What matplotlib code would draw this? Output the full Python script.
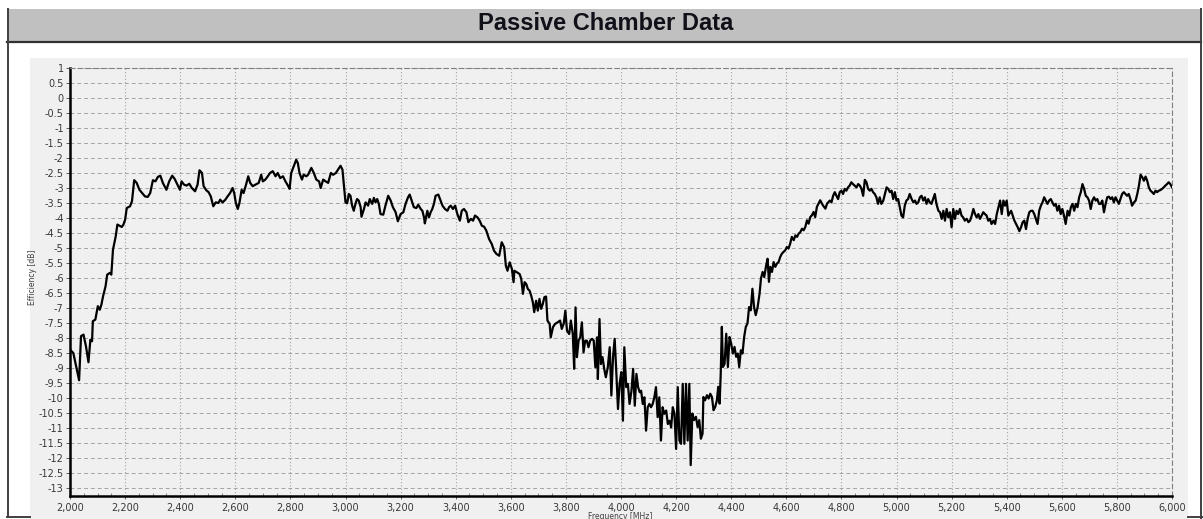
import matplotlib
matplotlib.use("Agg")
import matplotlib.pyplot as plt
from matplotlib.patches import Rectangle
from matplotlib.lines import Line2D
from matplotlib.ticker import MultipleLocator


freq_a = [2000, 2012, 2025, 2033, 2040, 2049, 2058, 2067, 2074, 2080,
          2083, 2092, 2101, 2108, 2114, 2120, 2129, 2135, 2145, 2150,
          2156, 2166, 2172, 2180, 2188, 2194, 2200, 2206, 2218, 2225,
          2233, 2242, 2252, 2264, 2272, 2282, 2291, 2301, 2310, 2319,
          2328, 2337, 2350, 2360, 2371, 2380, 2390, 2399, 2405, 2414,
          2423, 2433, 2442, 2454, 2463, 2470, 2479, 2485, 2495]
eff_a = [-8.39, -8.5, -9.06, -9.41, -7.94, -7.89, -8.28, -8.81, -8.06, -8.11,
         -7.44, -7.39, -6.94, -7.06, -6.89, -6.61, -6.28, -5.89, -5.83, -5.89,
         -5.06, -4.61, -4.22, -4.26, -4.3, -4.22, -4.06, -3.67, -3.61, -3.44,
         -2.74, -2.83, -3.06, -3.19, -3.28, -3.3, -3.17, -2.74, -2.78, -2.63,
         -2.59, -2.83, -3.06, -2.78, -2.59, -2.7, -2.89, -3.06, -2.78, -2.89,
         -2.92, -2.86, -3.0, -3.11, -2.89, -2.41, -2.5, -2.94, -3.08]

freq_b = [2503, 2511, 2520, 2529, 2539, 2545, 2554, 2564, 2572, 2581,
          2590, 2596, 2602, 2609, 2615, 2623, 2630, 2639, 2647, 2654,
          2663, 2673, 2685, 2694, 2700, 2709, 2718, 2726, 2736, 2746,
          2754, 2763, 2773, 2782, 2791, 2797, 2803, 2812, 2821, 2827,
          2833, 2842, 2848, 2858, 2864, 2876, 2885, 2894, 2904, 2910,
          2919, 2928, 2937, 2947, 2955, 2965, 2973, 2982, 2989]
eff_b = [-3.14, -3.28, -3.61, -3.48, -3.5, -3.39, -3.48, -3.39, -3.28, -3.17,
         -3.0, -3.17, -3.5, -3.7, -3.5, -3.06, -3.17, -2.89, -2.61, -2.83,
         -2.94, -2.89, -2.83, -2.56, -2.78, -2.72, -2.61, -2.5, -2.44, -2.61,
         -2.5, -2.67, -2.61, -2.78, -2.92, -3.03, -2.5, -2.28, -2.06, -2.17,
         -2.5, -2.72, -2.56, -2.61, -2.56, -2.33, -2.5, -2.72, -2.78, -3.0,
         -2.72, -2.78, -2.83, -2.5, -2.56, -2.5, -2.39, -2.26, -2.39]

freq_c = [2994, 3000, 3006, 3012, 3018, 3024, 3030, 3036, 3042, 3048,
          3055, 3058, 3067, 3073, 3082, 3088, 3097, 3103, 3109, 3115,
          3121, 3127, 3137, 3145, 3155, 3164, 3172, 3182, 3190, 3200,
          3210, 3218, 3227, 3233, 3240, 3248, 3257, 3264, 3273, 3279,
          3285, 3288, 3297, 3303, 3309, 3315, 3321, 3327, 3337, 3343,
          3352, 3361, 3370, 3376, 3382, 3390, 3398, 3406, 3415, 3422,
          3430, 3439, 3446, 3455, 3463, 3470, 3479, 3487, 3495, 3503,
          3511, 3521, 3531, 3539, 3548, 3558, 3567, 3576, 3582, 3588,
          3596]
eff_c = [-2.87, -3.48, -3.51, -3.2, -3.26, -3.59, -3.76, -3.53, -3.37, -3.42,
         -3.64, -3.96, -3.7, -3.48, -3.59, -3.37, -3.53, -3.33, -3.48, -3.37,
         -3.53, -3.87, -3.89, -3.59, -3.26, -3.42, -3.64, -3.81, -4.11, -3.87,
         -3.81, -3.53, -3.31, -3.22, -3.42, -3.64, -3.67, -3.56, -3.7, -3.76,
         -3.98, -4.18, -3.76, -3.98, -3.81, -3.7, -3.53, -3.26, -3.22, -3.37,
         -3.59, -3.7, -3.76, -3.64, -3.59, -3.7, -3.59, -3.87, -4.09, -3.76,
         -3.7, -3.81, -4.14, -4.03, -4.09, -3.92, -3.98, -4.09, -4.26, -4.29,
         -4.42, -4.7, -4.87, -5.09, -5.2, -5.26, -4.81, -4.98, -5.59, -5.76,
         -5.48]

freq_d = [3604, 3610, 3613, 3622, 3632, 3638, 3644, 3650, 3656, 3662,
          3668, 3674, 3680, 3685, 3692, 3698, 3704, 3710, 3716, 3722,
          3728, 3733, 3741, 3745, 3753, 3761, 3770, 3779, 3785, 3792,
          3798, 3804, 3812, 3818, 3825, 3830, 3835, 3840, 3846, 3852,
          3858, 3864, 3870, 3876, 3882, 3888, 3895, 3901, 3907, 3913,
          3916, 3922, 3927, 3933, 3939, 3945, 3952, 3959, 3965, 3971,
          3977, 3983, 3989, 3995, 4001, 4007, 4012, 4019, 4025, 4031,
          4038, 4044, 4050, 4056, 4062, 4068, 4073, 4079, 4085, 4091,
          4097, 4103, 4109, 4115, 4121, 4127, 4133, 4139, 4145, 4151,
          4157, 4164, 4170, 4176, 4182, 4188, 4194, 4200, 4206, 4212,
          4218, 4224, 4230, 4236, 4242, 4248]
eff_d = [-5.7, -6.14, -5.76, -5.81, -5.87, -6.03, -6.53, -6.14, -6.2, -6.37,
         -6.42, -6.59, -6.81, -7.14, -6.76, -7.09, -6.7, -7.03, -6.87, -6.64,
         -6.62, -7.42, -7.53, -7.98, -7.64, -7.53, -7.48, -7.42, -7.7, -7.53,
         -7.09, -7.76, -7.87, -7.42, -7.87, -9.03, -6.98, -8.64, -8.09, -7.98,
         -7.48, -8.48, -8.09, -8.09, -8.31, -8.09, -8.03, -8.09, -8.98, -7.98,
         -9.37, -7.37, -8.87, -8.64, -9.03, -9.31, -8.98, -8.31, -9.92, -8.64,
         -8.03, -9.14, -10.37, -9.53, -9.14, -10.76, -8.31, -9.64, -9.53, -10.2,
         -9.76, -9.03, -10.26, -9.2, -9.64, -9.81, -9.76, -10.2, -9.98, -11.09,
         -10.31, -10.2, -10.31, -10.2, -9.98, -9.64, -10.64, -9.98, -11.42, -10.31,
         -10.53, -10.42, -10.87, -10.76, -10.98, -10.31, -10.53, -11.7, -9.64, -11.42,
         -11.53, -9.53, -11.53, -9.53, -11.42, -9.53]

freq_e = [4253, 4259, 4265, 4272, 4278, 4284, 4290, 4296, 4299, 4305,
          4312, 4318, 4324, 4330, 4336, 4342, 4348, 4353, 4358, 4362,
          4366, 4370, 4376, 4382, 4388, 4394, 4400, 4406, 4412, 4418,
          4424, 4429, 4435, 4441, 4447, 4453, 4459, 4465, 4471, 4477,
          4483, 4489, 4496, 4503, 4508, 4514, 4520, 4526, 4532, 4537,
          4542, 4548, 4554, 4560, 4566, 4572, 4578, 4584, 4590, 4596,
          4602, 4608, 4614, 4620, 4627, 4633, 4639, 4645, 4651, 4657,
          4663, 4669, 4675, 4681, 4687, 4693, 4699, 4705, 4711, 4717,
          4723, 4733, 4742, 4748]
eff_e = [-12.24, -10.52, -10.74, -10.63, -10.97, -10.74, -11.36, -11.19, -9.97, -10.08,
         -9.91, -10.02, -9.86, -9.97, -10.41, -10.3, -10.08, -9.63, -10.19, -9.19,
         -7.63, -8.97, -8.86, -7.86, -8.97, -7.97, -8.19, -8.52, -8.3, -8.63,
         -8.52, -8.97, -8.41, -8.52, -7.97, -7.63, -7.52, -6.97, -7.08, -6.36,
         -6.97, -7.24, -6.97, -6.52, -6.02, -5.8, -5.97, -5.63, -5.36, -6.13,
         -5.63, -5.8, -5.47, -5.63, -5.52, -5.47, -5.3, -5.19, -5.13, -5.08,
         -4.97, -5.02, -4.86, -4.63, -4.74, -4.58, -4.63, -4.52, -4.47, -4.36,
         -4.41, -4.3, -4.08, -4.19, -3.97, -3.91, -3.8, -3.97, -3.63, -3.52,
         -3.41, -3.58, -3.69, -3.52]

freq_f = [4758, 4764, 4770, 4776, 4782, 4788, 4794, 4800, 4806, 4812,
          4818, 4824, 4830, 4836, 4842, 4848, 4855, 4861, 4867, 4873,
          4879, 4885, 4891, 4897, 4903, 4909, 4915, 4921, 4927, 4933,
          4939, 4945, 4952, 4958, 4964, 4970, 4976, 4982, 4988, 4994,
          5000, 5006, 5012, 5018, 5024, 5030, 5036, 5042, 5048, 5055,
          5061, 5067, 5073, 5079, 5085, 5091, 5097, 5103, 5109, 5115,
          5121, 5127, 5133, 5139, 5145, 5152, 5158, 5164, 5170, 5176,
          5182, 5188, 5194, 5200, 5206, 5212, 5218, 5224, 5230, 5236,
          5242, 5248, 5255, 5261, 5267, 5273, 5279, 5285, 5291, 5297,
          5303, 5309, 5315, 5321, 5327, 5333, 5339, 5345, 5352, 5358,
          5364, 5370, 5376, 5382, 5388, 5394, 5400, 5406]
eff_f = [-3.42, -3.48, -3.26, -3.14, -3.26, -3.37, -3.14, -3.09, -3.2, -3.03,
         -3.09, -2.98, -2.92, -2.81, -2.87, -2.92, -2.98, -2.87, -2.92, -3.03,
         -3.26, -2.73, -2.81, -3.03, -3.09, -3.03, -3.14, -3.2, -3.31, -3.53,
         -3.31, -3.53, -3.42, -3.2, -2.98, -3.03, -3.14, -3.09, -3.37, -3.14,
         -3.42, -3.37, -3.64, -3.92, -3.98, -3.59, -3.42, -3.37, -3.2, -3.37,
         -3.48, -3.42, -3.53, -3.48, -3.31, -3.26, -3.42, -3.31, -3.53, -3.37,
         -3.48, -3.53, -3.37, -3.2, -3.53, -3.76, -3.81, -4.03, -3.76, -4.09,
         -3.7, -3.98, -3.81, -4.31, -3.7, -4.03, -3.76, -3.87, -3.7, -3.92,
         -3.98, -4.09, -4.03, -4.14, -4.09, -3.92, -3.7, -3.87, -3.98, -3.87,
         -4.03, -3.92, -3.81, -3.87, -3.92, -4.09, -4.03, -4.2, -4.09, -4.2,
         -3.87, -3.64, -3.42, -3.87, -3.42, -3.59, -3.42, -3.92]

freq_g = [5416, 5422, 5428, 5434, 5440, 5446, 5452, 5458, 5464, 5470,
          5476, 5482, 5488, 5494, 5500, 5506, 5512, 5518, 5524, 5530,
          5536, 5542, 5548, 5554, 5560, 5566, 5572, 5578, 5584, 5590,
          5596, 5602, 5608, 5614, 5621, 5627, 5633, 5639, 5645, 5651,
          5657, 5663, 5669, 5675, 5681, 5687, 5693, 5699, 5705, 5711,
          5717, 5723, 5729, 5735, 5741, 5747, 5753, 5759, 5765, 5771,
          5777, 5783, 5789, 5795, 5801, 5807, 5813, 5819, 5825, 5831,
          5837, 5843, 5849, 5855, 5862, 5868, 5874, 5880, 5886, 5892,
          5898, 5904, 5910, 5916, 5922, 5928, 5934, 5940, 5946, 5952,
          5958, 5964, 5970, 5976, 5982, 5988, 5994, 6000]
eff_g = [-3.76, -3.92, -4.09, -4.2, -4.31, -4.44, -4.31, -4.14, -4.09, -4.37,
         -4.03, -3.81, -3.76, -3.76, -3.87, -4.03, -4.2, -3.76, -3.59, -3.48,
         -3.31, -3.42, -3.53, -3.42, -3.37, -3.48, -3.59, -3.53, -3.76, -3.59,
         -3.87, -3.7, -3.92, -4.2, -3.76, -3.92, -3.64, -3.53, -3.76, -3.53,
         -3.64, -3.31, -3.14, -2.87, -3.03, -3.26, -3.31, -3.42, -3.7, -3.42,
         -3.31, -3.42, -3.37, -3.53, -3.53, -3.42, -3.81, -3.53, -3.31, -3.29,
         -3.37, -3.31, -3.48, -3.31, -3.42, -3.53, -3.37, -3.2, -3.14, -3.2,
         -3.26, -3.2, -3.37, -3.59, -3.48, -3.42, -3.2, -2.92, -2.56, -2.64,
         -2.76, -2.62, -2.76, -2.98, -3.09, -3.14, -3.2, -3.09, -3.14, -3.09,
         -3.07, -3.03, -2.98, -2.92, -2.87, -2.81, -2.87, -2.98]

x_ticks = [2000, 2200, 2400, 2600, 2800, 3000, 3200, 3400, 3600, 3800, 4000,
           4200, 4400, 4600, 4800, 5000, 5200, 5400, 5600, 5800, 6000]
x_tick_labels = ['2,000', '2,200', '2,400', '2,600', '2,800', '3,000', '3,200',
                 '3,400', '3,600', '3,800', '4,000', '4,200', '4,400', '4,600',
                 '4,800', '5,000', '5,200', '5,400', '5,600', '5,800', '6,000']
y_tick_labels = ['1', '0.5', '0', '-0.5', '-1', '-1.5', '-2', '-2.5', '-3',
                 '-3.5', '-4', '-4.5', '-5', '-5.5', '-6', '-6.5', '-7', '-7.5',
                 '-8', '-8.5', '-9', '-9.5', '-10', '-10.5', '-11', '-11.5',
                 '-12', '-12.5', '-13']
y_ticks = [float(s) for s in y_tick_labels]

freq = []
eff = []
for f, e in [(freq_a, eff_a), (freq_b, eff_b), (freq_c, eff_c), (freq_d, eff_d),
             (freq_e, eff_e), (freq_f, eff_f), (freq_g, eff_g)]:
    if len(f) != len(e):
        raise ValueError("length mismatch %d %d" % (len(f), len(e)))
    freq.extend(f)
    eff.extend(e)

W, H = 1203, 519


def fx(px):
    return px / W


def fy(py):
    return 1 - py / H


fig = plt.figure(figsize=(W / 100, H / 100), dpi=100)
fig.patch.set_facecolor('white')

# screenshot frame: grey title bar, chart panel, window borders
fig.add_artist(Rectangle((fx(7), fy(41)), fx(1201) - fx(7), fy(9) - fy(41),
                         transform=fig.transFigure, facecolor='#c0c0c0',
                         edgecolor='none', zorder=0))
fig.add_artist(Rectangle((fx(30), 0), fx(1188) - fx(30), fy(58),
                         transform=fig.transFigure, facecolor='#f0f0f0',
                         edgecolor='none', zorder=0))
fig.add_artist(Line2D([fx(7), fx(1201)], [fy(42), fy(42)], transform=fig.transFigure,
                      color='#303030', lw=1.6))
fig.add_artist(Line2D([fx(7.5), fx(7.5)], [fy(9), fy(517)], transform=fig.transFigure,
                      color='#404040', lw=1.4))
fig.add_artist(Line2D([fx(1201), fx(1201)], [fy(9), fy(519)], transform=fig.transFigure,
                      color='#404040', lw=1.4))
fig.add_artist(Line2D([fx(7), fx(30)], [fy(517), fy(517)], transform=fig.transFigure,
                      color='#404040', lw=1.4))
fig.add_artist(Line2D([fx(1188), fx(1203)], [fy(517), fy(517)], transform=fig.transFigure,
                      color='#404040', lw=1.4))

fig.text(fx(606), fy(24), 'Passive Chamber Data', ha='center', va='center',
         fontsize=17, fontweight='bold', family='Liberation Sans', color='#101018')

ax = fig.add_axes([fx(70), fy(496), fx(1172) - fx(70), fy(68) - fy(496)])
ax.set_facecolor('#f0f0f0')
ax.plot(freq, eff, color='black', lw=1.6, zorder=3)

ax.set_xlim(2000, 6000)
ax.set_ylim(-13.27, 1)
ax.set_xticks(x_ticks)
ax.set_xticklabels(x_tick_labels)
ax.set_yticks(y_ticks)
ax.set_yticklabels(y_tick_labels)
ax.xaxis.set_minor_locator(MultipleLocator(50))

ax.yaxis.grid(True, linestyle=(0, (4, 3)), color='#a4a4a4', lw=0.7)
ax.xaxis.grid(True, linestyle=(0, (1, 2)), color='#a4a4a4', lw=0.8)
ax.set_axisbelow(True)

for side in ['left', 'bottom']:
    ax.spines[side].set_linewidth(1.8)
    ax.spines[side].set_color('black')
for side in ['top', 'right']:
    ax.spines[side].set_linestyle((0, (4, 3)))
    ax.spines[side].set_linewidth(0.8)
    ax.spines[side].set_color('#808080')

ax.tick_params(axis='y', direction='out', length=3, width=0.7, color='#606060',
               labelsize=7, labelcolor='#383838', pad=1.5)
ax.tick_params(axis='x', which='major', direction='out', length=2, width=0.7,
               color='#606060', labelsize=7, labelcolor='#383838', pad=3)
ax.tick_params(axis='x', which='minor', direction='in', length=2, width=0.6,
               color='#707070')

ax.set_ylabel('Efficiency [dB]', fontsize=5.5, color='#404040')
ax.yaxis.set_label_coords(-0.03, 0.51)
ax.set_xlabel('Frequency [MHz]', fontsize=5.5, color='#404040')
ax.xaxis.set_label_coords(0.499, -0.037)

fig.savefig('out.png', dpi=100)
